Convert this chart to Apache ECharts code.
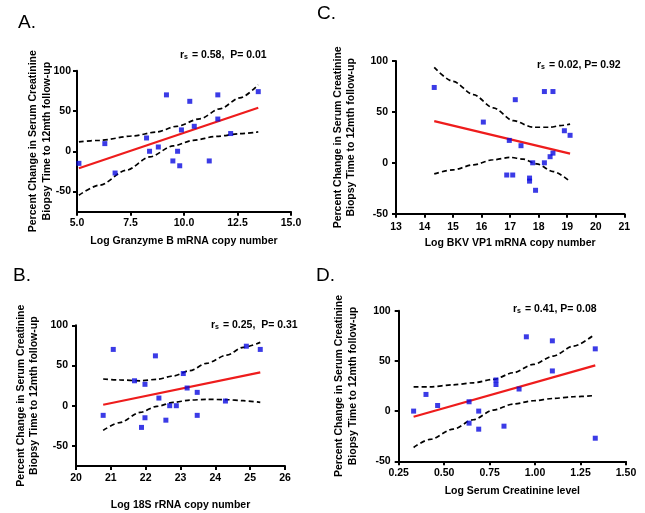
<!DOCTYPE html>
<html>
<head>
<meta charset="utf-8">
<script src="https://cdn.jsdelivr.net/npm/echarts@6/dist/echarts.min.js"></script>
<style>html,body{margin:0;padding:0;background:#fff}#c{width:645px;height:513px}</style>
</head>
<body>
<div id="c"></div>
<script>
// Panel A: Log Granzyme B mRNA copy number
var aPoints = [[5.09,-15],[6.3,9.5],[6.78,-27],[8.25,16.5],[8.39,0],[8.8,5.3],[9.18,70],[9.48,-12],[9.7,0],[9.8,-18],[9.88,26.5],[10.27,62],[10.48,31],[11.18,-12],[11.58,70],[11.58,40],[12.18,22],[13.47,74]];
var aFit = [[5.09,-21],[13.47,54]];
var aUpper = [[5.09,11.6],[6.06,13.6],[7.62,19],[8.71,23.9],[9.65,30.9],[10.74,40.3],[11.68,52.7],[12.61,66.3],[13.47,82.5]];
var aLower = [[5.09,-54.5],[6.06,-42],[7.31,-23.5],[8.4,-7],[9.49,6.6],[10.43,13.6],[11.52,18.5],[12.61,21.8],[13.47,24]];
// Panel C: Log BKV VP1 mRNA copy number
var cPoints = [[14.34,74],[16.06,40],[16.88,-12],[16.97,22],[17.09,-12],[17.18,62],[17.38,16.8],[17.68,-15],[17.68,-18],[17.79,0],[17.89,-27],[18.2,70],[18.2,0],[18.4,6],[18.5,70],[18.5,9.5],[18.9,31.5],[19.1,27]];
var cFit = [[14.34,41],[19.1,9]];
var cUpper = [[14.34,93.8],[15.0,80],[15.71,67],[16.41,54],[17.11,41.4],[17.81,34.9],[18.4,34.9],[18.75,36.5],[19.1,38]];
var cLower = [[14.34,-10.9],[15.0,-6.9],[15.71,-2],[16.41,3],[17.0,5.3],[17.46,3.6],[17.93,-1],[18.51,-8.6],[19.1,-18.4]];
// Panel B: Log 18S rRNA copy number
var bPoints = [[20.78,-12],[21.07,70],[21.68,31],[21.88,-27],[21.98,26.6],[21.98,-15],[22.28,62],[22.38,9.5],[22.58,-18],[22.69,0],[22.88,0],[23.08,40],[23.19,22],[23.48,16.6],[23.48,-12],[24.29,5.8],[24.89,74],[25.29,70]];
var bFit = [[20.78,1.2],[25.29,41.5]];
var bUpper = [[20.78,33.2],[21.26,32],[21.84,31],[22.32,32.8],[22.79,37],[23.27,43.6],[23.75,52.7],[24.33,63],[24.8,72.6],[25.29,78.8]];
var bLower = [[20.78,-30.7],[21.26,-21],[21.84,-8.3],[22.32,-0.8],[22.79,4.1],[23.27,7],[23.75,7.9],[24.33,7.5],[24.8,6.2],[25.29,4.1]];
// Panel D: Log Serum Creatinine level
var dPoints = [[0.332,0],[0.40,16.6],[0.464,5.6],[0.637,9.3],[0.637,-12],[0.69,0],[0.69,-18],[0.785,31],[0.785,26.5],[0.829,-15],[0.912,22],[0.952,74],[1.095,70],[1.095,40],[1.331,62],[1.331,-27]];
var dFit = [[0.332,-5.6],[1.331,45.5]];
var dUpper = [[0.332,24.2],[0.422,24.2],[0.55,26.2],[0.66,28.2],[0.77,31.5],[0.88,38.2],[0.99,46.5],[1.1,54.8],[1.21,64.7],[1.315,74.7]];
var dLower = [[0.332,-36.2],[0.422,-28.2],[0.55,-17.9],[0.66,-8.6],[0.77,1],[0.88,7],[0.99,10.3],[1.1,12.6],[1.21,14.3],[1.315,15.3]];

var panelLetters = ['A.', 'C.', 'B.', 'D.'];
var statValues = [' = 0.58,  P= 0.01', ' = 0.02, P= 0.92', ' = 0.25,  P= 0.31', ' = 0.41, P= 0.08'];
var xNames = ['Log Granzyme B mRNA copy number', 'Log BKV VP1 mRNA copy number', 'Log 18S rRNA copy number', 'Log Serum Creatinine level'];
var yName = 'Percent Change in Serum Creatinine\nBiopsy Time to 12mth follow-up';
var xTicksA = [5, 7.5, 10, 12.5, 15];
var xTicksC = [13, 14, 15, 16, 17, 18, 19, 20, 21];
var xTicksB = [20, 21, 22, 23, 24, 25, 26];
var xTicksD = [0.25, 0.5, 0.75, 1.0, 1.25, 1.5];
var yTicksAB = [-50, 0, 50, 100];
var yTicksCD = [-50, 0, 50, 100];

var FONT = '"Liberation Sans", Arial, sans-serif';
var grids = [
  {left: 77, top: 70.7, width: 214, height: 141},
  {left: 396, top: 61, width: 228.3, height: 152.7},
  {left: 76, top: 325.3, width: 209, height: 140.7},
  {left: 398.7, top: 310.7, width: 227.3, height: 150.6}
];
var xCfg = [
  {min: 5, max: 15, ticks: xTicksA, dec: 1, margin: 6, gap: 24},
  {min: 13, max: 21, ticks: xTicksC, dec: 0, margin: 8, gap: 24},
  {min: 20, max: 26, ticks: xTicksB, dec: 0, margin: 7, gap: 34},
  {min: 0.25, max: 1.5, ticks: xTicksD, dec: 2, margin: 6, gap: 24}
];
var yCfg = [
  {min: -75, max: 100, ticks: yTicksAB, margin: 6, gap: 23.5},
  {min: -50, max: 100, ticks: yTicksCD, margin: 8, gap: 38},
  {min: -75, max: 100, ticks: yTicksAB, margin: 8, gap: 35},
  {min: -50, max: 100, ticks: yTicksCD, margin: 8, gap: 39}
];
var axisLineStyle = {color: '#000', width: 2};
var xAxes = [], yAxes = [];
for (var i = 0; i < 4; i++) {
  (function (i) {
    var xc = xCfg[i], yc = yCfg[i];
    xAxes.push({
      type: 'value', gridIndex: i, min: xc.min, max: xc.max,
      splitLine: {show: false},
      axisLine: {show: true, onZero: false, lineStyle: axisLineStyle},
      axisTick: {show: true, length: 4, lineStyle: {color: '#000', width: 2}, customValues: xc.ticks},
      axisLabel: {customValues: xc.ticks, margin: xc.margin, color: '#000', fontFamily: FONT, fontWeight: 'bold', fontSize: 10.5,
        formatter: function (v) { return Number(v).toFixed(xc.dec); }},
      name: xNames[i], nameLocation: 'middle', nameGap: xc.gap, nameMoveOverlap: false,
      nameTextStyle: {color: '#000', fontFamily: FONT, fontWeight: 'bold', fontSize: 10.5}
    });
    yAxes.push({
      type: 'value', gridIndex: i, min: yc.min, max: yc.max,
      splitLine: {show: false},
      axisLine: {show: true, onZero: false, lineStyle: axisLineStyle},
      axisTick: {show: true, length: 4, lineStyle: {color: '#000', width: 2}, customValues: yc.ticks},
      axisLabel: {customValues: yc.ticks, margin: yc.margin, color: '#000', fontFamily: FONT, fontWeight: 'bold', fontSize: 10.5},
      name: yName, nameLocation: 'middle', nameGap: yc.gap, nameRotate: 90, nameMoveOverlap: false,
      nameTextStyle: {color: '#000', fontFamily: FONT, fontWeight: 'bold', fontSize: 10.5, lineHeight: 13.5, align: 'center'}
    });
  })(i);
}

var pointSets = [aPoints, cPoints, bPoints, dPoints];
var fitSets = [aFit, cFit, bFit, dFit];
var upperSets = [aUpper, cUpper, bUpper, dUpper];
var lowerSets = [aLower, cLower, bLower, dLower];
var series = [];
for (var k = 0; k < 4; k++) {
  var dash = {color: '#000', width: 1.7, type: [5, 3]};
  series.push({type: 'line', xAxisIndex: k, yAxisIndex: k, data: upperSets[k], smooth: 0.3, smoothMonotone: 'x', showSymbol: false, lineStyle: dash, silent: true, z: 2});
  series.push({type: 'line', xAxisIndex: k, yAxisIndex: k, data: lowerSets[k], smooth: 0.3, smoothMonotone: 'x', showSymbol: false, lineStyle: dash, silent: true, z: 2});
  series.push({type: 'line', xAxisIndex: k, yAxisIndex: k, data: fitSets[k], showSymbol: false, lineStyle: {color: '#ee1c1c', width: 2.2}, silent: true, z: 3});
  series.push({type: 'scatter', xAxisIndex: k, yAxisIndex: k, data: pointSets[k], symbol: 'rect', symbolSize: 5, itemStyle: {color: '#0a0ae0'}, z: 4});
}

var letterPos = [[18, 13], [317, 4], [13, 266], [316, 266]];
var statPos = [[180, 48], [537, 58], [211, 318], [513, 302]];
var titles = [];
for (var t = 0; t < 4; t++) {
  titles.push({text: panelLetters[t], left: letterPos[t][0], top: letterPos[t][1], padding: 0,
    textStyle: {fontFamily: FONT, fontWeight: 'normal', fontSize: 19, color: '#000'}});
  titles.push({text: '{r|r}{s|s}{r|' + statValues[t] + '}', left: statPos[t][0], top: statPos[t][1], padding: 0,
    textStyle: {rich: {
      r: {fontFamily: FONT, fontWeight: 'bold', fontSize: 10.5, color: '#000', lineHeight: 13, verticalAlign: 'bottom'},
      s: {fontFamily: FONT, fontWeight: 'bold', fontSize: 7, color: '#000', lineHeight: 13, verticalAlign: 'bottom', padding: [0, 1, 0, 0]}
    }}});
}

var chart = echarts.init(document.getElementById('c'), null, {renderer: 'canvas'});
chart.setOption({
  animation: false,
  backgroundColor: '#fff',
  title: titles,
  grid: grids,
  xAxis: xAxes,
  yAxis: yAxes,
  series: series
});
</script>
</body>
</html>
